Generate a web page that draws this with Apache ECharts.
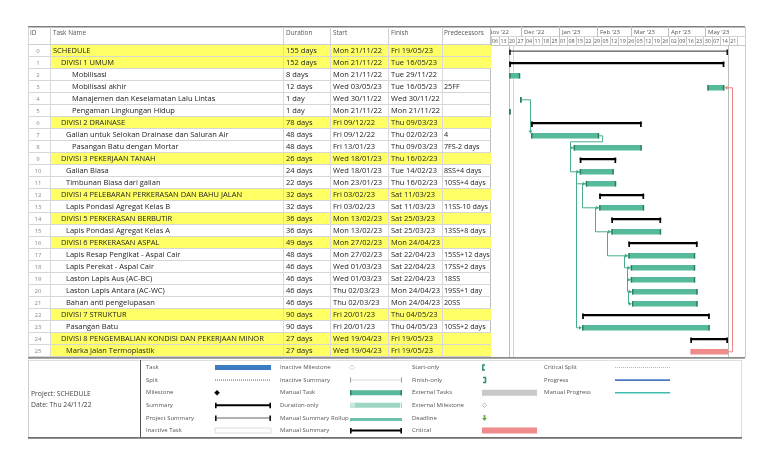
<!DOCTYPE html>
<html><head><meta charset="utf-8">
<script src="https://cdn.jsdelivr.net/npm/echarts@6/dist/echarts.min.js"></script>
<style>html,body{margin:0;padding:0;background:#fff}#c{width:768px;height:466px}</style>
</head><body><div id="c"></div>
<script>
// ---------------- DATA ----------------
const ids = [0,1,2,3,4,5,6,7,8,9,10,11,12,13,14,15,16,17,18,19,20,21,22,23,24,25];
const taskNames = [
 "SCHEDULE","DIVISI 1 UMUM","Mobilisasi","Mobilisasi akhir","Manajemen dan Keselamatan Lalu Lintas",
 "Pengaman Lingkungan Hidup","DIVISI 2 DRAINASE","Galian untuk Selokan Drainase dan Saluran Air",
 "Pasangan Batu dengan Mortar","DIVISI 3 PEKERJAAN TANAH","Galian Biasa","Timbunan Biasa dari galian",
 "DIVISI 4 PELEBARAN PERKERASAN DAN BAHU JALAN","Lapis Pondasi Agregat Kelas B","DIVISI 5 PERKERASAN BERBUTIR",
 "Lapis Pondasi Agregat Kelas A","DIVISI 6 PERKERASAN ASPAL","Lapis Resap Pengikat - Aspal Cair",
 "Lapis Perekat - Aspal Cair","Laston Lapis Aus (AC-BC)","Laston Lapis Antara (AC-WC)","Bahan anti pengelupasan",
 "DIVISI 7 STRUKTUR","Pasangan Batu","DIVISI 8 PENGEMBALIAN KONDISI DAN PEKERJAAN MINOR","Marka Jalan Termoplastik"];
const outlineLevels = [0,1,3,3,3,3,1,2,3,1,2,2,1,2,1,2,1,2,2,2,2,2,1,2,1,2];
const durations = ["155 days","152 days","8 days","12 days","1 day","1 day","78 days","48 days","48 days","26 days",
 "24 days","22 days","32 days","32 days","36 days","36 days","49 days","48 days","46 days","46 days","46 days",
 "46 days","90 days","90 days","27 days","27 days"];
const starts = ["Mon 21/11/22","Mon 21/11/22","Mon 21/11/22","Wed 03/05/23","Wed 30/11/22","Mon 21/11/22",
 "Fri 09/12/22","Fri 09/12/22","Fri 13/01/23","Wed 18/01/23","Wed 18/01/23","Mon 23/01/23","Fri 03/02/23",
 "Fri 03/02/23","Mon 13/02/23","Mon 13/02/23","Mon 27/02/23","Mon 27/02/23","Wed 01/03/23","Wed 01/03/23",
 "Thu 02/03/23","Thu 02/03/23","Fri 20/01/23","Fri 20/01/23","Wed 19/04/23","Wed 19/04/23"];
const finishes = ["Fri 19/05/23","Tue 16/05/23","Tue 29/11/22","Tue 16/05/23","Wed 30/11/22","Mon 21/11/22",
 "Thu 09/03/23","Thu 02/02/23","Thu 09/03/23","Thu 16/02/23","Tue 14/02/23","Thu 16/02/23","Sat 11/03/23",
 "Sat 11/03/23","Sat 25/03/23","Sat 25/03/23","Mon 24/04/23","Sat 22/04/23","Sat 22/04/23","Sat 22/04/23",
 "Mon 24/04/23","Mon 24/04/23","Thu 04/05/23","Thu 04/05/23","Fri 19/05/23","Fri 19/05/23"];
const predecessors = ["","","","25FF","","","","4","7FS-2 days","","8SS+4 days","10SS+4 days","","11SS-10 days",
 "","13SS+8 days","","15SS+12 days","17SS+2 days","18SS","19SS+1 day","20SS","","10SS+2 days","",""];
const barTypes = ["project","summary","task","task","task","task","summary","task","task","summary","task","task",
 "summary","task","summary","task","summary","task","task","task","task","task","summary","task","summary","critical"];
const highlightedRows = [0,1,6,9,12,14,16,22,24,25];
// links: [predecessor, successor, type]
const links = [[4,7,"FS"],[7,8,"FS"],[8,10,"SS"],[10,11,"SS"],[10,23,"SS"],[11,13,"SS"],[13,15,"SS"],
 [15,17,"SS"],[17,18,"SS"],[18,19,"SS"],[19,20,"SS"],[20,21,"SS"],[25,3,"FF"]];
const columnHeaders = ["ID","Task Name","Duration","Start","Finish","Predecessors"];
const timescaleOrigin = "Sun 06/11/22";
const weekLabels = ["06","13","20","27","04","11","18","25","01","08","15","22","29","05","12","19","26",
 "05","12","19","26","02","09","16","23","30","07","14","21"];
const monthLabels = ["Nov '22","Dec '22","Jan '23","Feb '23","Mar '23","Apr '23","May '23"];
const monthStarts = ["Tue 01/11/22","Thu 01/12/22","Sun 01/01/23","Wed 01/02/23","Wed 01/03/23","Sat 01/04/23","Mon 01/05/23"];
const projectTitle = "Project: SCHEDULE";
const statusDate = "Thu 24/11/22";
const legendCols = [
 ["Task","Split","Milestone","Summary","Project Summary","Inactive Task"],
 ["Inactive Milestone","Inactive Summary","Manual Task","Duration-only","Manual Summary Rollup","Manual Summary"],
 ["Start-only","Finish-only","External Tasks","External Milestone","Deadline","Critical"],
 ["Critical Split","Progress","Manual Progress"]];

// ---------------- HELPERS ----------------
function toUTC(s){ const [d,m,y] = s.split(' ')[1].split('/').map(Number); return Date.UTC(2000+y, m-1, d); }
const ORIGIN = toUTC(timescaleOrigin);
function dayIdx(s){ return (toUTC(s) - ORIGIN) / 86400000; }
const startDay = starts.map(dayIdx);
const finishDay = finishes.map(dayIdx);

const FONT = "'Open Sans', sans-serif";
const TEAL = '#57b99b', TEAL_DARK = '#2a7d64', LINK = '#48ad8e', PINK = '#f08b8b';
const YELLOW = '#ffff66';
const BODY_FS = 7.5, TXT = '#1c1c1c', LEG_FS = 6.0;
// layout
const TL = 28, GL = 491, GR = 745, TOP = 45, H = 312;
const COLSEP = [22, 255, 302, 360, 414];        // relative to table left
const COLTXT = [10, 25, 258, 305, 363, 416];
const INDENT = [0, 8, 13, 19];

const chart = echarts.init(document.getElementById('c'));

function txt(x, y, text, size, fill, align){
  return {type:'text', x, y, silent:true, style:{text, fill, fontSize:size, fontFamily:FONT, align:align||'left', verticalAlign:'middle'}};
}
function hline(x1, x2, y, stroke, lw){ return {type:'line', silent:true, shape:{x1, y1:y, x2, y2:y}, style:{stroke, lineWidth:lw||1}}; }
function vline(x, y1, y2, stroke, lw){ return {type:'line', silent:true, shape:{x1:x, y1, x2:x, y2}, style:{stroke, lineWidth:lw||1}}; }
function rect(x, y, w, h, fill){ return {type:'rect', silent:true, shape:{x, y, width:w, height:h}, style:{fill}}; }

// ---------------- TABLE ROWS ----------------
function renderRow(params, api){
  const i = params.dataIndex, cs = params.coordSys;
  const cy = api.coord([0, i])[1];
  const h = api.size([0, 1])[1];
  const top = cy - h/2, x0 = cs.x;
  const ch = [];
  if (highlightedRows.indexOf(i) >= 0) ch.push(rect(x0 + COLSEP[0], top, cs.width - COLSEP[0], h, YELLOW));
  ch.push(hline(x0, x0 + cs.width, Math.round(top + h) - 0.5, '#d6d6d6'));
  COLSEP.forEach(s => ch.push(vline(x0 + s + 0.5, top, top + h, '#dadada')));
  ch.push(txt(x0 + COLTXT[0], cy, String(ids[i]), 6, '#8a8a8a', 'center'));
  ch.push(txt(x0 + COLTXT[1] + INDENT[outlineLevels[i]], cy, taskNames[i], BODY_FS, TXT));
  ch.push(txt(x0 + COLTXT[2], cy, durations[i], BODY_FS, TXT));
  ch.push(txt(x0 + COLTXT[3], cy, starts[i], BODY_FS, TXT));
  ch.push(txt(x0 + COLTXT[4], cy, finishes[i], BODY_FS, TXT));
  ch.push(txt(x0 + COLTXT[5], cy, predecessors[i], BODY_FS - 0.3, TXT));
  return {type:'group', children:ch};
}

// ---------------- GANTT BARS ----------------
function renderBar(params, api){
  const i = params.dataIndex;
  const p0 = api.coord([startDay[i], i]), p1 = api.coord([finishDay[i] + 1, i]);
  const cy = p0[1], x0 = p0[0], x1 = p1[0], w = Math.max(x1 - x0, 1.2);
  const t = barTypes[i];
  if (t === 'summary') return {type:'group', children:[
    rect(x0, cy - 1, w, 2.2, '#000'), rect(x0, cy - 1.5, 1.7, 5.5, '#000'), rect(x1 - 1.7, cy - 1.5, 1.7, 5.5, '#000')]};
  if (t === 'project') return {type:'group', children:[
    rect(x0, cy - 0.5, w, 1.2, '#555'), rect(x0, cy - 1.5, 1.5, 5.5, '#111'), rect(x1 - 1.5, cy - 1.5, 1.5, 5.5, '#111')]};
  if (t === 'critical') return rect(x0, cy - 2, w, 5.5, PINK);
  return {type:'group', children:[
    rect(x0, cy - 2, w, 5.5, TEAL), rect(x0, cy - 2, 1.4, 5.5, TEAL_DARK), rect(x0 + w - 1.4, cy - 2, 1.4, 5.5, TEAL_DARK)]};
}

// ---------------- LINKS ----------------
function arrowR(tx, ty, c){ return {type:'polygon', silent:true, shape:{points:[[tx,ty],[tx-3.2,ty-2],[tx-3.2,ty+2]]}, style:{fill:c}}; }
function arrowL(tx, ty, c){ return {type:'polygon', silent:true, shape:{points:[[tx,ty],[tx+3.2,ty-2],[tx+3.2,ty+2]]}, style:{fill:c}}; }
function arrowD(tx, ty, c){ return {type:'polygon', silent:true, shape:{points:[[tx,ty],[tx-2,ty-3.2],[tx+2,ty-3.2]]}, style:{fill:c}}; }
function renderLink(params, api){
  const [p, s, type] = links[params.dataIndex];
  const h = api.size([0, 1])[1];
  const pS = api.coord([startDay[p], p]), pE = api.coord([finishDay[p] + 1, p]);
  const sS = api.coord([startDay[s], s]), sE = api.coord([finishDay[s] + 1, s]);
  const py = pS[1] + 0.8, sy = sS[1] + 0.8;
  const c = type === 'FF' ? '#ee8585' : LINK;
  let pts, arr;
  if (type === 'SS'){
    const xv = Math.round(pS[0] - 4) + 0.5;
    pts = [[pS[0], py],[xv, py],[xv, sy],[sS[0] - 2, sy]]; arr = arrowR(sS[0], sy, c);
  } else if (type === 'FS'){
    if (sS[0] >= pE[0] + 3){
      const xv = Math.round(sS[0] - 1) + 0.5;
      pts = [[pE[0], py],[xv, py],[xv, sy - 4]]; arr = arrowD(xv, sy - 2, c);
    } else {
      const xr = pE[0] + 3.5, ym = py + h/2, xl = Math.round(sS[0] - 4) + 0.5;
      pts = [[pE[0], py],[xr, py],[xr, ym],[xl, ym],[xl, sy],[sS[0] - 2, sy]]; arr = arrowR(sS[0], sy, c);
    }
  } else {
    const xv = Math.round(Math.max(pE[0], sE[0]) + 4) + 0.5;
    pts = [[pE[0], py],[xv, py],[xv, sy],[sE[0] + 2, sy]]; arr = arrowL(sE[0], sy, c);
  }
  return {type:'group', children:[{type:'polyline', silent:true, shape:{points:pts}, style:{stroke:c, lineWidth:1, fill:null}}, arr]};
}

// ---------------- DATE LINES ----------------
const dateLines = [startDay[0], dayIdx(statusDate), finishDay[0] + 1];
function renderDateLine(params, api){
  const cs = params.coordSys;
  const x = Math.round(api.coord([dateLines[params.dataIndex], 0])[0]) + 0.5;
  return vline(x, cs.y, cs.y + cs.height, params.dataIndex === 1 ? '#d4d4d4' : '#bdbdbd');
}

// ---------------- MONTH TIER ----------------
function renderMonth(params, api){
  const cs = params.coordSys;
  const x = Math.round(api.coord([dayIdx(monthStarts[params.dataIndex]), 0])[0]) + 0.5;
  return {type:'group', clipPath:{type:'rect', shape:{x:cs.x, y:cs.y - 19, width:cs.width, height:11}},
    children:[vline(x, cs.y - 19, cs.y - 8, '#bdbdbd'), txt(x + 2.5, cs.y - 12.5, monthLabels[params.dataIndex], 6, '#555')]};
}

// ---------------- LEGEND ----------------
const LABX = [146, 280, 412, 544];
const SYMX = [[215,271],[350,402],[482,537],[615,670]];
const LEG_Y0 = 367.5, LEG_DY = 12.6;
function diamond(cx, cy, r, fill, stroke){
  return {type:'polygon', silent:true, shape:{points:[[cx,cy-r],[cx+r,cy],[cx,cy+r],[cx-r,cy]]}, style:{fill:fill, stroke:stroke||null, lineWidth:0.8}};
}
function bracket(x0, x1, y, lineColor, lw, tickColor){
  return [rect(x0, y - lw/2, x1 - x0, lw, lineColor), rect(x0, y - 2.5, 1.6, 5.5, tickColor), rect(x1 - 1.6, y - 2.5, 1.6, 5.5, tickColor)];
}
function legendSymbol(name, x0, x1, y){
  const w = x1 - x0;
  switch(name){
    case 'Task': return [rect(x0, y - 2.5, w, 5, '#3b7dc0')];
    case 'Split': return [{type:'line', silent:true, shape:{x1:x0,y1:y,x2:x1,y2:y}, style:{stroke:'#6e9bd1', lineWidth:1.5, lineDash:[1,1]}}];
    case 'Milestone': return [diamond(x0 + 2, y, 2.8, '#000')];
    case 'Summary': return bracket(x0, x1, y, '#000', 2, '#000');
    case 'Project Summary': return bracket(x0, x1, y, '#666', 1, '#111');
    case 'Inactive Task': return [{type:'rect', silent:true, shape:{x:x0, y:y - 2.5, width:w, height:5}, style:{fill:'#fff', stroke:'#d5d5d5', lineWidth:0.8}}];
    case 'Inactive Milestone': return [diamond(x0 + 2, y, 2.5, '#fff', '#c8c8c8')];
    case 'Inactive Summary': return [rect(x0, y - 0.5, w, 1, '#d8d8d8'), rect(x0, y - 2.5, 1, 5, '#999'), rect(x1 - 1, y - 2.5, 1, 5, '#999')];
    case 'Manual Task': return [rect(x0, y - 2.5, w, 5, TEAL), rect(x0, y - 2.5, 1.5, 5, TEAL_DARK), rect(x1 - 1.5, y - 2.5, 1.5, 5, TEAL_DARK)];
    case 'Duration-only': return [rect(x0, y - 2.5, w, 5, '#9ed8c4'), rect(x0, y - 2.5, 5, 5, '#c6eadc'), rect(x1 - 2, y - 2.5, 1, 5, '#e6f6f0')];
    case 'Manual Summary Rollup': return [rect(x0, y, w, 3, '#6cc2aa')];
    case 'Manual Summary': return bracket(x0, x1, y, '#000', 2, '#000');
    case 'Start-only': return [{type:'polyline', silent:true, shape:{points:[[x0+3,y-2.5],[x0+0.8,y-2.5],[x0+0.8,y+2.5],[x0+3,y+2.5]]}, style:{stroke:'#2a8f7a', lineWidth:1.5, fill:null}}];
    case 'Finish-only': return [{type:'polyline', silent:true, shape:{points:[[x0+1,y-2.5],[x0+3.5,y-2.5],[x0+3.5,y+2.5],[x0+1,y+2.5]]}, style:{stroke:'#2a8f7a', lineWidth:1.5, fill:null}}];
    case 'External Tasks': return [rect(x0, y - 3, w, 6, '#c9c9c9')];
    case 'External Milestone': return [diamond(x0 + 2.5, y, 2.2, '#fff', '#aaa')];
    case 'Deadline': return [{type:'polygon', silent:true, shape:{points:[[x0+2.5,y+3],[x0,y],[x0+1.6,y],[x0+1.6,y-3],[x0+3.4,y-3],[x0+3.4,y],[x0+5,y]]}, style:{fill:'#6aa84f'}}];
    case 'Critical': return [rect(x0, y - 3, w, 6, PINK)];
    case 'Critical Split': return [{type:'line', silent:true, shape:{x1:x0,y1:y,x2:x1,y2:y}, style:{stroke:'#f0a0a0', lineWidth:1.2, lineDash:[1,1]}}];
    case 'Progress': return [rect(x0, y - 0.8, w, 1.6, '#4a78c0')];
    case 'Manual Progress': return [rect(x0, y - 0.8, w, 1.6, '#3dbdb0')];
  }
  return [];
}
const graphicEls = [];
// frame / header
graphicEls.push(rect(TL, 26, GR - TL, 1.6, '#7f7f7f'));
graphicEls.push(hline(TL, GL, TOP - 0.5, '#cfcfcf'));
graphicEls.push(hline(GL, GR, TOP - 8.5, '#d6d6d6'));
COLSEP.forEach(s => graphicEls.push(vline(TL + s + 0.5, 27, TOP, '#d0d0d0')));
graphicEls.push(vline(GL - 0.5, 27, 358, '#bdbdbd'));
graphicEls.push(vline(GR + 0.5, 27, 358, '#d0d0d0'));
graphicEls.push(vline(TL + 0.5, 27, 358, '#d6d6d6'));
const HDRX = [TL + 2, TL + COLTXT[1], TL + COLTXT[2], TL + COLTXT[3], TL + COLTXT[4], TL + COLTXT[5]];
columnHeaders.forEach((t, k) => graphicEls.push(txt(HDRX[k], 33, t, 6.4, '#555')));
graphicEls.push(rect(TL, 357, GR - TL, 1.8, '#8c8c8c'));
// legend box
graphicEls.push(hline(TL, 742, 360.5, '#e0e0e0'));
graphicEls.push(vline(TL + 0.5, 360, 438, '#cfcfcf'));
graphicEls.push(vline(741.5, 360, 438, '#dcdcdc'));
graphicEls.push(vline(140.5, 360, 438, '#555'));
graphicEls.push(rect(TL, 437, 742 - TL, 1.8, '#6f6f6f'));
graphicEls.push(txt(31, 394, projectTitle, 6.8, '#444'));
graphicEls.push(txt(31, 405, 'Date: ' + statusDate, 6.8, '#444'));
legendCols.forEach((col, c) => col.forEach((name, r) => {
  const y = LEG_Y0 + r * LEG_DY;
  graphicEls.push(txt(LABX[c], y, name, LEG_FS, '#555'));
  legendSymbol(name, SYMX[c][0], SYMX[c][1], y).forEach(e => graphicEls.push(e));
}));

const rowCats = ids.map(String);
chart.setOption({
  animation:false,
  grid:[{left:TL, top:TOP, width:GL - TL, height:H}, {left:GL, top:TOP, width:GR - GL, height:H}],
  xAxis:[
    {gridIndex:0, type:'value', min:0, max:1, show:false},
    {gridIndex:1, type:'value', min:0, max:209, interval:7, position:'top',
     axisLine:{show:true, lineStyle:{color:'#c8c8c8'}},
     axisTick:{show:true, length:8, lineStyle:{color:'#c8c8c8'}},
     axisLabel:{show:true, margin:1.5, fontSize:5.3, color:'#555', fontFamily:FONT, align:'left', padding:[0,0,0,1],
       showMinLabel:true, showMaxLabel:false, formatter: v => weekLabels[v / 7] || ''},
     splitLine:{show:false}}
  ],
  yAxis:[
    {gridIndex:0, type:'category', data:rowCats, inverse:true, show:false},
    {gridIndex:1, type:'category', data:rowCats, inverse:true, show:false}
  ],
  graphic:{elements:graphicEls},
  series:[
    {type:'custom', xAxisIndex:0, yAxisIndex:0, renderItem:renderRow, data:ids.map(i => [0, i]), z:1, silent:true},
    {type:'custom', xAxisIndex:1, yAxisIndex:1, renderItem:renderDateLine, data:dateLines.map(d => [d, 0]), z:1, silent:true},
    {type:'custom', xAxisIndex:1, yAxisIndex:1, renderItem:renderMonth, data:monthStarts.map(m => [dayIdx(m), 0]), z:2, silent:true},
    {type:'custom', xAxisIndex:1, yAxisIndex:1, renderItem:renderLink, data:links.map(l => [startDay[l[1]], l[1]]), z:3, silent:true},
    {type:'custom', xAxisIndex:1, yAxisIndex:1, renderItem:renderBar, data:ids.map(i => [startDay[i], i]), z:4, silent:true}
  ]
});
</script>
</body></html>
